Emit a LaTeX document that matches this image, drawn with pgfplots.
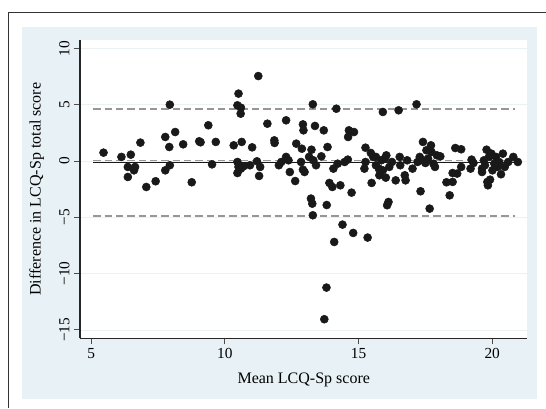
\documentclass[border=0pt]{standalone}
\usepackage{pgfplots}
\pgfplotsset{compat=1.18}
\usepackage{fontspec}
\setmainfont{Liberation Serif}

\definecolor{panelbg}{RGB}{232,241,245}
\definecolor{gridcol}{RGB}{236,241,243}
\definecolor{refgray}{RGB}{150,150,150}
\definecolor{dotcol}{RGB}{25,25,25}

\pgfplotstableread{
x y
5.46 0.74
6.13 0.36
6.48 0.56
6.37 -0.53
6.37 -1.42
6.64 -0.53
6.60 -0.83
6.84 1.63
7.06 -2.31
7.41 -1.80
7.77 2.13
7.94 5.00
7.92 1.24
7.77 -0.83
7.94 -0.38
8.14 2.57
8.44 1.48
8.76 -1.89
9.04 1.75
9.09 1.66
9.38 3.17
9.52 -0.30
9.66 1.69
10.33 1.39
10.51 5.98
10.47 4.94
10.60 4.73
10.59 4.20
10.63 1.69
10.47 -0.09
10.51 -0.53
10.47 -1.07
10.60 -0.68
10.70 -0.47
10.94 -0.38
11.02 1.21
11.20 -0.03
11.32 -0.53
11.28 -1.33
11.25 7.54
11.59 3.31
11.85 1.83
11.86 1.60
12.02 -0.38
12.11 -0.09
12.29 3.61
12.29 0.36
12.38 0.06
12.43 -0.98
12.63 -1.78
12.67 1.54
12.92 3.25
12.94 2.72
12.88 1.09
12.85 -0.09
12.92 -0.77
12.98 -0.98
13.15 0.36
13.24 1.00
13.29 5.03
13.37 3.11
13.22 -3.34
13.27 -3.79
13.29 -4.82
13.31 0.06
13.41 -0.38
13.61 0.41
13.70 2.72
13.84 1.24
13.81 -3.91
13.91 -1.95
14.02 -2.31
14.06 -0.68
14.09 -7.19
13.80 -11.24
13.72 -14.05
14.17 4.64
14.22 -0.24
14.32 -2.16
14.40 -5.65
14.48 -0.09
14.60 0.12
14.64 2.72
14.61 2.13
14.83 2.57
14.74 -2.81
14.80 -6.39
15.26 1.18
15.22 -0.68
15.26 -0.09
15.34 -6.80
15.46 0.71
15.49 -1.95
15.55 0.36
15.65 -0.38
15.76 -0.68
15.78 -1.27
15.85 0.06
15.91 4.35
15.98 0.21
16.04 0.50
16.02 -1.48
16.07 -3.93
16.12 -3.64
16.15 -0.53
16.39 -1.72
16.50 4.50
16.54 0.36
16.56 -0.38
16.73 -1.27
16.76 -1.72
16.82 0.06
17.02 -0.68
17.17 5.03
17.21 -0.09
17.29 0.36
17.32 -2.69
17.41 1.69
17.50 -0.18
17.54 0.95
17.66 -4.23
17.71 1.39
17.73 0.80
17.80 -0.24
17.93 0.50
18.06 0.41
18.29 -1.89
18.41 -3.05
18.52 -1.86
18.52 -1.07
18.62 1.15
18.69 -1.12
18.84 1.04
18.84 -0.53
19.23 0.12
19.19 -0.68
19.30 -0.18
19.62 -0.68
19.62 -0.98
19.79 1.00
19.82 -1.86
19.84 -2.16
19.92 -1.66
19.97 0.65
20.08 -0.24
20.14 0.36
20.33 -1.18
20.40 0.65
20.47 -0.53
20.60 -0.09
20.79 0.36
20.96 -0.09
17.60 0.21
17.86 -0.53
17.41 0.06
19.69 0.06
19.88 0.36
20.01 -0.83
20.20 -0.53
20.26 -0.09
19.73 -0.38
15.91 -0.83
15.65 0.36
16.25 -0.09
}\diffdata

\begin{document}
\begin{tikzpicture}[x=0.75pt,y=0.75pt]
% fixed page size: 546 x 408 px at 0.75pt per px
\useasboundingbox (0,0) rectangle (546,408);
\fill[panelbg] (21.7,9) rectangle (536.7,381.3);
\draw[black!80, line width=0.8pt] (8.3,0) -- (8.3,395.7) -- (546,395.7);
\begin{axis}[
    at={(60pt,52.3pt)}, anchor=south west,
    scale only axis,
    width=335.6pt, height=223.7pt,
    xmin=4.58, xmax=21.32,
    ymin=-15.74, ymax=10.74,
    axis lines*=left,
    axis line style={black!85, line width=0.8pt},
    axis background/.style={fill=white},
    xtick={5,10,15,20},
    ytick={-15,-10,-5,0,5,10},
    yticklabels={−15,−10,−5,0,5,10},
    tick align=outside,
    major tick length=4.3pt,
    tick style={black!70, line width=0.7pt},
    ymajorgrids,
    grid style={gridcol, line width=0.6pt},
    /pgf/number format/assume math mode=true,
    ticklabel style={font=\fontsize{11.5}{13}\selectfont},
    yticklabel style={rotate=90, anchor=south},
    label style={font=\fontsize{12}{14}\selectfont},
    xlabel={Mean LCQ-Sp score},
    ylabel={Difference in LCQ-Sp total score},
    xlabel style={at={(axis description cs:0.5,-0.1398)}, anchor=center},
    ylabel style={at={(axis description cs:-0.097,0.5)}, anchor=center},
    clip=false,
]
\addplot[refgray, line width=1.4pt, dash pattern=on 5.5pt off 3pt] coordinates {(5.08,4.65) (20.86,4.65)};
\addplot[refgray, line width=1.4pt, dash pattern=on 5.5pt off 3pt] coordinates {(5.08,-4.9) (20.86,-4.9)};
\addplot[black!90, line width=1pt] coordinates {(5.08,-0.12) (20.86,-0.12)};
\addplot[refgray, line width=1pt, dash pattern=on 5.5pt off 3pt] coordinates {(5.08,0.06) (20.86,0.06)};
\addplot[only marks, mark=*, mark size=3pt, mark options={fill=dotcol, draw=dotcol}] table[x=x, y=y] {\diffdata};
\end{axis}
\end{tikzpicture}
\end{document}
